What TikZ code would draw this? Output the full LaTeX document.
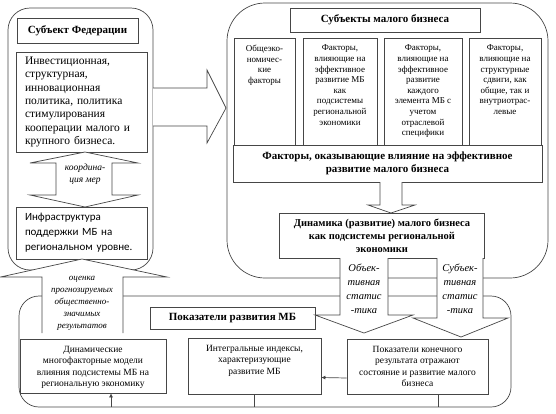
\documentclass[tikz,border=0pt]{standalone}
\usepackage{fontspec}
\setmainfont{Liberation Serif}[Ligatures=TeX]
\newfontfamily\serifmain{Liberation Serif}
\newfontfamily\infrafont{Carlito}
\usetikzlibrary{arrows.meta,positioning,calc}
\definecolor{edge}{RGB}{70,70,70}
\newcommand{\topparbox}[3]{\parbox[c][#1][t]{#2}{\centering\vspace*{7pt}#3}}
\tikzset{
  frame/.style={draw=edge, line width=0.7pt},
  headbox/.style={draw=edge, fill=white, line width=0.7pt, align=center, inner sep=0pt,
    font=\serifmain\bfseries\fontsize{11}{12.7}\selectfont},
  textbox/.style={draw=edge, fill=white, line width=0.7pt, inner sep=0pt},
  factbox/.style={textbox, font=\serifmain\fontsize{9}{10.6}\selectfont},
  resbox/.style={textbox, font=\serifmain\fontsize{9.5}{11.4}\selectfont},
  bigarrow/.style={draw=edge, fill=white, line width=0.7pt},
  arrowtext/.style={font=\serifmain\itshape\fontsize{10.5}{14}\selectfont, align=center, inner sep=0pt},
  flow/.style={-{Latex[length=4pt,width=4pt]}, draw=edge, line width=0.7pt}
}

\begin{document}
\begin{tikzpicture}[x=1pt, y=-1pt]
\useasboundingbox (0,0) rectangle (556,413);

% frames
\draw[frame, rounded corners=22pt] (8,8) rectangle (153,270);
\draw[frame, rounded corners=38pt] (227,3) rectangle (548,278);
\draw[frame, rounded corners=20pt] (19,296) rectangle (511,407);

% region
\node[headbox, minimum width=121, minimum height=25] (fedtitle) at (77.5,30.5) {Субъект Федерации};
\node[textbox, minimum width=131, minimum height=100, align=left, inner xsep=9pt, text width=113pt,
  font=\serifmain\fontsize{11.5}{13.3}\selectfont] (policy) at (81.5,102)
  {Инвестиционная,\\структурная,\\инновационная\\политика, политика\\стимулирования\\кооперации малого и\\крупного бизнеса.};
\node[textbox, minimum width=131, minimum height=52, align=left, inner xsep=9pt, text width=113pt,
  font=\infrafont\fontsize{11}{15}\selectfont] (infra) at (81.5,233)
  {Инфраструктура\\поддержки МБ на\\региональном уровне.};

% small business
\node[headbox, minimum width=190, minimum height=24] (smbtitle) at (385,20) {Субъекты малого бизнеса};
\node[factbox] (fgen) at (264.5,91.5) {\topparbox{107pt}{61pt}{Общеэко-\\номичес-\\кие\\факторы}};
\node[factbox] (freg) at (340,91.5) {\topparbox{107pt}{74pt}{Факторы,\\влияющие на\\эффективное\\развитие МБ\\как\\подсистемы\\региональной\\экономики}};
\node[factbox] (felem) at (423,91.5) {\topparbox{107pt}{78pt}{Факторы,\\влияющие на\\эффективное\\развитие\\каждого\\элемента МБ с\\учетом\\отраслевой\\специфики}};
\node[factbox] (fshift) at (505,91.5) {\topparbox{107pt}{72pt}{Факторы,\\влияющие на\\структурные\\сдвиги, как\\общие, так и\\внутриотрас-\\левые}};
\node[headbox, minimum width=309, minimum height=37] (factors) at (387.5,163.5)
  {Факторы, оказывающие влияние на эффективное\\развитие малого бизнеса};
\node[headbox, minimum width=205, minimum height=45, font=\serifmain\bfseries\fontsize{10.5}{13}\selectfont] (dyn) at (382,235.5)
  {Динамика (развитие) малого бизнеса\\как подсистемы региональной\\экономики};

% indicators
\node[headbox, minimum width=165, minimum height=22] (indtitle) at (232.5,318) {Показатели развития МБ};
\node[resbox] (models) at (93,366) {\topparbox{54pt}{146pt}{Динамические\\многофакторные модели\\влияния подсистемы МБ на\\региональную экономику}};
\node[resbox] (integ) at (254.5,366) {\topparbox{56pt}{133pt}{Интегральные индексы,\\характеризующие\\развитие МБ}};
\node[resbox] (final) at (417.5,366.5) {\topparbox{55pt}{141pt}{Показатели конечного\\результата отражают\\состояние и развитие малого\\бизнеса}};

\draw[flow] ([yshift=-11.5pt]final.west) -- ([yshift=-11.5pt]integ.east);
\draw[edge, line width=0.7pt] (integ.south) -- ++(0,13);
\draw[edge, line width=0.7pt] ([xshift=20.5pt]final.south) -- ++(0,13);
\coordinate (fb) at (111,407);
\draw[flow] (fb) -- (fb |- models.south);

% block arrows
\draw[bigarrow] (85,152) -- (138,163) -- (112,163) -- (112,195) -- (138,195) -- (85,207)
  -- (30,195) -- (56,195) -- (56,163) -- (30,163) -- cycle;
\draw[bigarrow] (153,88) -- (207,88) -- (207,70) -- (226,108) -- (207,143) -- (207,126) -- (153,126);
\draw[bigarrow] (380,182) -- (380,205) -- (368,205) -- (391,213) -- (415,205) -- (402,205) -- (402,182);
\draw[bigarrow] (340,258) -- (340,315) -- (315,315) -- (364,333) -- (413,315) -- (388,315) -- (388,258);
\draw[bigarrow] (437,258) -- (437,318) -- (413,318) -- (461,337) -- (508,318) -- (483,318) -- (483,258);
\draw[bigarrow] (42,333) -- (42,277) -- (0.5,277) -- (82,259) -- (167,277) -- (123,277) -- (123,333);

\node[arrowtext, font=\serifmain\itshape\fontsize{9.5}{11.5}\selectfont] (coordlabel) at (85,174) {координа-\\ция мер};
\node[arrowtext, font=\serifmain\itshape\fontsize{9}{12}\selectfont] (evallabel) at (82,303)
  {оценка\\прогнозируемых\\общественно-\\значимых\\результатов};
\node[arrowtext] (objlabel) at (364,289) {Объек-\\тивная\\статис\\-тика};
\node[arrowtext] (subjlabel) at (460,289) {Субъек-\\тивная\\статис\\-тика};
\end{tikzpicture}
\end{document}
